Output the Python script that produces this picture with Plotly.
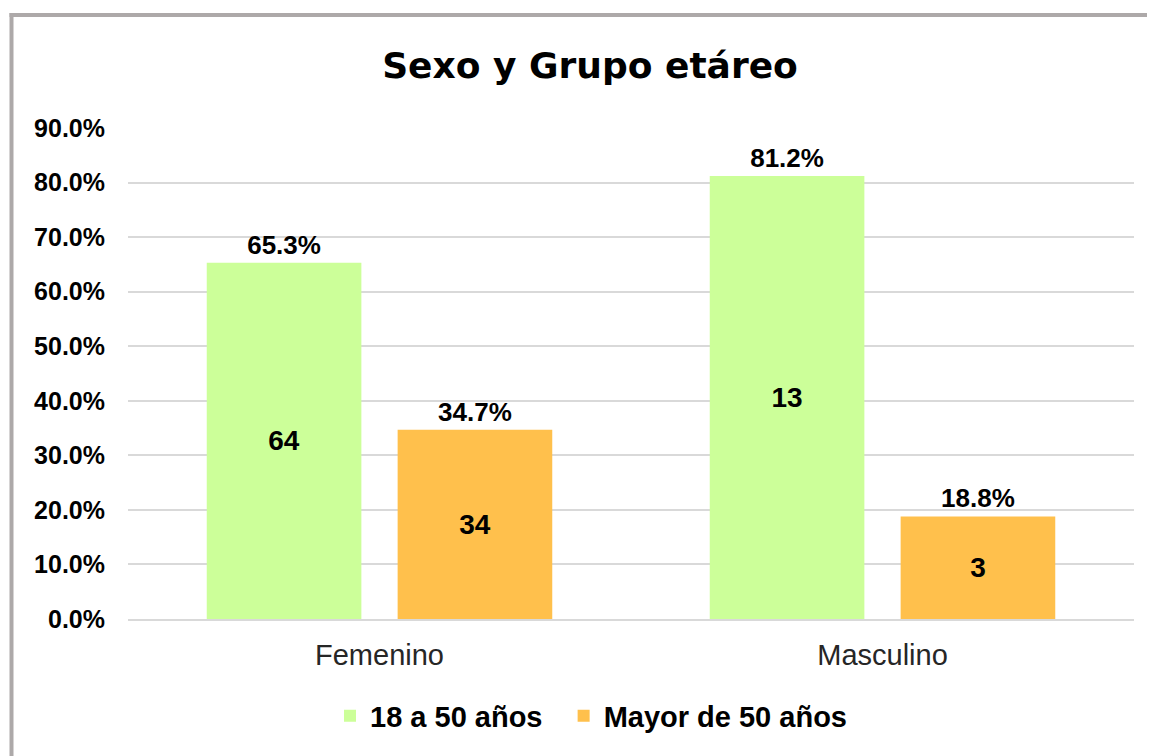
import plotly.graph_objects as go

categories = ["Femenino", "Masculino"]
series_names = ["18 a 50 años", "Mayor de 50 años"]
pct_18_50 = [0.653, 0.812]
pct_mayor50 = [0.347, 0.188]
count_18_50 = [64, 13]
count_mayor50 = [34, 3]
colors = ["#CCFF99", "#FFC04C"]
y_ticks = [0.0, 0.1, 0.2, 0.3, 0.4, 0.5, 0.6, 0.7, 0.8, 0.9]

# page body has an 8px margin; figure is sized to fit the window
W, H = 1147, 748
ML, MR, MT, MB = 120, 21, 120, 137

fig = go.Figure()

series = [
    (series_names[0], pct_18_50, count_18_50, colors[0], "g1"),
    (series_names[1], pct_mayor50, count_mayor50, colors[1], "g2"),
]

for i, (name, pct, cnt, col, grp) in enumerate(series):
    legend_name = name + ("\u00a0\u00a0" if i == 0 else "")
    fig.add_trace(go.Bar(
        x=categories, y=pct, name=legend_name, offsetgroup=grp,
        marker=dict(color=col, line=dict(width=0)),
        text=[f"{v*100:.1f}%" for v in pct],
        textposition="outside",
        textfont=dict(family="Liberation Sans, Arial, sans-serif", size=26, color="#000000", weight="bold"),
        cliponaxis=False,
        showlegend=True,
    ))
    fig.add_trace(go.Bar(
        x=categories, y=pct, name=name + " n", offsetgroup=grp,
        marker=dict(color="rgba(0,0,0,0)", line=dict(width=0)),
        text=[str(c) for c in cnt],
        textposition="inside",
        insidetextanchor="middle",
        textangle=0,
        textfont=dict(family="Liberation Sans, Arial, sans-serif", size=28, color="#000000", weight="bold"),
        showlegend=False,
        hoverinfo="skip",
    ))

H_PLOT = H - MT - MB
W_PLOT = W - ML - MR
def px_to_paper_x(px):
    return (px - ML) / W_PLOT
def px_to_paper_y(py):
    return (H - MB - py) / H_PLOT

border_col = "#ADA9A9"
fig.add_shape(type="line", xref="paper", yref="paper",
              x0=px_to_paper_x(3.5), x1=px_to_paper_x(3.5),
              y0=px_to_paper_y(5), y1=px_to_paper_y(H + 5),
              line=dict(color=border_col, width=4))
fig.add_shape(type="line", xref="paper", yref="paper",
              x0=px_to_paper_x(1.5), x1=px_to_paper_x(W + 5),
              y0=px_to_paper_y(7), y1=px_to_paper_y(7),
              line=dict(color=border_col, width=4))

fig.update_layout(
    width=W, height=H,
    margin=dict(l=ML, r=MR, t=MT, b=MB),
    paper_bgcolor="#FFFFFF", plot_bgcolor="#FFFFFF",
    barmode="group", bargap=0.241, bargroupgap=0.19,
    title=dict(
        text="<b>Sexo y Grupo etáreo</b>",
        font=dict(family="DejaVu Sans, Verdana, sans-serif", size=36, color="#000000"),
        x=582/W, xanchor="center", xref="container",
        y=1 - 57/H, yanchor="middle", yref="container",
    ),
    legend=dict(
        orientation="h",
        x=583/W, xanchor="center", xref="container",
        y=1 - 708/H, yanchor="middle", yref="container",
        font=dict(family="Liberation Sans, Arial, sans-serif", size=29, color="#000000", weight="bold"),
        itemwidth=30,
        traceorder="normal",
    ),
    showlegend=True,
)

fig.update_xaxes(
    showgrid=False, showline=True, linecolor="#D9D9D9", linewidth=2,
    ticks="", tickfont=dict(family="Liberation Sans, Arial, sans-serif", size=29, color="#262626"),
    ticklabelstandoff=9,
)
fig.update_yaxes(
    range=[0, 0.9], tickvals=y_ticks, tickformat=".1%",
    showgrid=True, gridcolor="#D9D9D9", gridwidth=1.5,
    zeroline=False, showline=False, ticks="",
    tickfont=dict(family="Liberation Sans, Arial, sans-serif", size=25, color="#000000", weight="bold"),
    ticklabelstandoff=22,
)

fig.write_html("out.html")
